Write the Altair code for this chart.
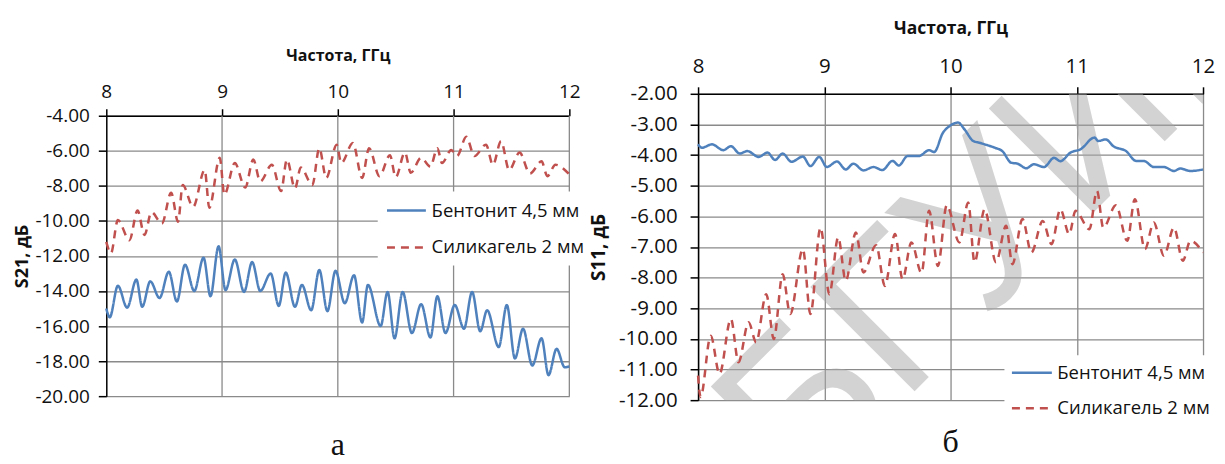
import altair as alt
import pandas as pd

FONT = "Open Sans"
BLUE = "#4F81BD"
RED = "#C0504D"
GRID = "#8a8a8a"
INK = "#111111"

series_names = ["Бентонит 4,5 мм", "Силикагель 2 мм"]
freq_ticks = [8, 9, 10, 11, 12]

# ---- panel а : S21 ----
a_bent_f = [8.00, 8.03, 8.10, 8.18, 8.26, 8.31, 8.38, 8.46, 8.54, 8.61, 8.68, 8.76, 8.84, 8.90, 8.97,
            9.03, 9.11, 9.19, 9.26, 9.33, 9.42, 9.49, 9.55, 9.63, 9.69, 9.77, 9.84, 9.91, 9.98, 10.06,
            10.14, 10.21, 10.26, 10.37, 10.43, 10.49, 10.56, 10.64, 10.72, 10.80, 10.86, 10.93, 11.01,
            11.09, 11.16, 11.23, 11.29, 11.39, 11.46, 11.53, 11.60, 11.68, 11.76, 11.82, 11.89, 11.96, 12.00]
a_bent_v = [-15.0, -15.5, -13.7, -14.95, -13.35, -14.9, -13.45, -14.4, -12.9, -14.6, -12.5, -14.0, -12.1,
            -14.3, -11.45, -13.95, -12.2, -14.05, -12.35, -14.0, -13.0, -14.85, -12.95, -14.9, -13.65,
            -15.1, -12.8, -15.15, -12.85, -14.7, -13.1, -15.8, -13.65, -16.0, -14.05, -16.7, -14.05, -16.4,
            -14.75, -16.65, -14.3, -16.4, -14.8, -16.15, -14.05, -16.3, -15.1, -17.2, -14.8, -17.85,
            -16.15, -18.25, -16.7, -18.8, -17.3, -18.35, -18.3]
a_sil_f = [8.00, 8.04, 8.10, 8.20, 8.27, 8.33, 8.39, 8.48, 8.56, 8.62, 8.66, 8.75, 8.85, 8.89, 8.98, 9.02,
           9.11, 9.20, 9.27, 9.33, 9.43, 9.51, 9.56, 9.63, 9.68, 9.78, 9.84, 9.90, 9.99, 10.03, 10.13,
           10.21, 10.27, 10.36, 10.45, 10.50, 10.58, 10.63, 10.72, 10.80, 10.86, 10.90, 10.98, 11.03,
           11.11, 11.18, 11.28, 11.34, 11.41, 11.48, 11.57, 11.66, 11.76, 11.81, 11.88, 12.00]
a_sil_v = [-11.2, -11.85, -9.95, -11.1, -9.4, -10.8, -9.5, -10.15, -8.4, -10.05, -7.95, -9.2, -7.1, -9.25,
           -6.4, -8.5, -6.7, -8.1, -6.5, -7.75, -6.8, -8.3, -6.5, -8.15, -6.95, -7.95, -5.85, -7.55, -5.65,
           -6.7, -5.55, -7.55, -5.85, -7.45, -6.25, -7.5, -6.1, -7.25, -6.4, -6.9, -5.85, -6.7, -5.95, -6.3,
           -5.2, -6.3, -5.65, -6.8, -5.45, -7.1, -6.1, -7.3, -6.6, -7.45, -6.8, -7.35]
a_y_ticks = [-20, -18, -16, -14, -12, -10, -8, -6, -4]

# ---- panel б : S11 ----
b_bent_f = [8.00, 8.03, 8.11, 8.20, 8.26, 8.33, 8.39, 8.48, 8.55, 8.61, 8.67, 8.74, 8.83, 8.89, 8.96,
            9.02, 9.10, 9.17, 9.23, 9.31, 9.39, 9.46, 9.54, 9.59, 9.66, 9.75, 9.83, 9.87, 9.94, 9.99,
            10.06, 10.11, 10.18, 10.23, 10.27, 10.35, 10.41, 10.48, 10.53, 10.60, 10.66, 10.74, 10.82,
            10.87, 10.95, 11.03, 11.14, 11.17, 11.23, 11.29, 11.39, 11.47, 11.53, 11.61, 11.69, 11.77,
            11.82, 11.90, 12.00]
b_bent_v = [-3.65, -3.76, -3.65, -3.84, -3.71, -3.95, -3.87, -4.06, -3.92, -4.16, -3.95, -4.22, -4.05,
            -4.36, -4.06, -4.39, -4.21, -4.47, -4.28, -4.5, -4.39, -4.49, -4.19, -4.34, -4.03, -4.03,
            -3.84, -3.9, -3.27, -3.06, -2.94, -3.16, -3.54, -3.6, -3.65, -3.76, -3.87, -4.25, -4.28,
            -4.43, -4.3, -4.39, -4.09, -4.2, -3.92, -3.81, -3.43, -3.54, -3.49, -3.71, -3.87, -4.19,
            -4.19, -4.39, -4.39, -4.52, -4.44, -4.52, -4.47]
b_sil_f = [8.00, 8.02, 8.10, 8.17, 8.26, 8.32, 8.40, 8.46, 8.54, 8.60, 8.67, 8.73, 8.83, 8.89, 8.97,
           9.04, 9.11, 9.17, 9.25, 9.31, 9.41, 9.48, 9.56, 9.62, 9.69, 9.77, 9.83, 9.90, 9.97, 10.07,
           10.14, 10.19, 10.27, 10.36, 10.44, 10.49, 10.57, 10.64, 10.73, 10.80, 10.87, 10.94, 10.99,
           11.10, 11.16, 11.21, 11.31, 11.40, 11.46, 11.54, 11.61, 11.69, 11.77, 11.84, 11.90, 12.00]
b_sil_v = [-11.2, -11.9, -9.9, -11.14, -9.35, -10.76, -9.46, -10.11, -8.54, -10.0, -7.89, -9.19, -7.07,
           -9.19, -6.37, -8.54, -6.69, -8.1, -6.53, -7.83, -6.94, -8.27, -6.58, -8.05, -6.85, -7.85,
           -5.82, -7.62, -5.64, -6.85, -5.55, -7.5, -5.77, -7.5, -6.31, -7.56, -6.09, -7.18, -6.15,
           -6.91, -5.77, -6.58, -5.82, -6.42, -5.17, -6.37, -5.64, -6.8, -5.44, -7.07, -6.2, -7.29,
           -6.37, -7.45, -6.8, -7.18]
b_y_ticks = [-12, -11, -10, -9, -8, -7, -6, -5, -4, -3, -2]

watermark_text = ["БГУИР"]
watermark_f = [10.4]
watermark_v = [-5.9]


def series_df(f1, v1, f2, v2):
    return pd.DataFrame({
        "f": f1 + f2,
        "v": v1 + v2,
        "s": [series_names[0]] * len(f1) + [series_names[1]] * len(f2),
    })


LABEL_EXPR = "replace(format(datum.value, '.2f'), '\u2212', '-')"


def panel(df, y_dom, y_ticks, y_title, cfg, extra_layers=()):
    x_axis = alt.Axis(orient="top", values=freq_ticks, tickCount=10, format="d",
                      grid=not cfg["own_vgrid"], gridColor=GRID, gridWidth=1.3,
                      offset=cfg["x_offset"],
                      title="Частота, ГГц", titleFont=FONT, titleFontSize=cfg["x_title_size"],
                      titleFontWeight="bold", titleColor=INK, titlePadding=cfg["x_title_pad"],
                      labelFont=FONT, labelFontSize=cfg["tick_size"], labelColor=INK,
                      labelPadding=cfg["x_lab_pad"], labelFlush=False, labelOverlap=False,
                      tickSize=7, tickColor="black", tickWidth=1.5,
                      domainColor="black", domainWidth=1.5)
    if cfg["y_range"] is not None:
        y_scale = alt.Scale(domain=y_dom, nice=False, zero=False, range=cfg["y_range"])
    else:
        y_scale = alt.Scale(domain=y_dom, nice=False, zero=False)
    y_axis = alt.Axis(values=y_ticks, tickCount=30, labelExpr=LABEL_EXPR, grid=True,
                      gridColor=GRID, gridWidth=1.3, title=y_title, titleFont=FONT,
                      titleFontSize=cfg["y_title_size"], titleFontWeight="bold", titleColor=INK,
                      titlePadding=cfg["y_title_pad"], labelFont=FONT, labelFontSize=cfg["tick_size"],
                      labelColor=INK, labelPadding=cfg["y_lab_pad"], labelOverlap=False,
                      tickSize=8, tickColor="black", tickWidth=1.5,
                      domainColor="black", domainWidth=1.5)
    legend = alt.Legend(title=None, orient="none", legendX=cfg["legend_x"], legendY=cfg["legend_y"],
                        fillColor="white", padding=cfg["legend_pad"], labelFont=FONT,
                        labelFontSize=cfg["legend_size"], labelColor=INK, labelLimit=400,
                        symbolType="M-1,0H3", symbolSize=cfg["sym_size"], symbolStrokeWidth=2.5,
                        labelOffset=24, rowPadding=cfg["legend_row"], zindex=1)
    x_enc = alt.X("f:Q", scale=alt.Scale(domain=[8, 12], nice=False, zero=False), axis=x_axis)
    y_enc = alt.Y("v:Q", scale=y_scale, axis=y_axis)
    lines = alt.Chart(df).mark_line(strokeWidth=2.5, interpolate="monotone").encode(
        x=x_enc, y=y_enc,
        color=alt.Color("s:N", scale=alt.Scale(domain=series_names, range=[BLUE, RED]), legend=legend),
        strokeDash=alt.StrokeDash("s:N", scale=alt.Scale(domain=series_names, range=[[1, 0], [8, 6]]),
                                  legend=legend),
    )
    layers = list(extra_layers)
    if cfg["own_vgrid"]:
        gdf = pd.DataFrame({"f": freq_ticks[1:], "v": [y_dom[1]] * 4, "v2": [y_dom[0]] * 4})
        vgrid = alt.Chart(gdf).mark_rule(color=GRID, strokeWidth=1.3).encode(
            x=alt.X("f:Q"), y=alt.Y("v:Q"), y2="v2:Q")
        layers = [vgrid] + layers
    layers.append(lines)
    return alt.layer(*layers).properties(
        width=cfg["width"], height=cfg["height"],
        title=alt.TitleParams(cfg["caption"], orient="bottom", frame="group", anchor="middle",
                              font="Liberation Serif", fontSize=32, fontWeight="normal",
                              color=INK, baseline="alphabetic", offset=cfg["cap_offset"]),
    )


df_a = series_df(a_bent_f, a_bent_v, a_sil_f, a_sil_v)
df_b = series_df(b_bent_f, b_bent_v, b_sil_f, b_sil_v)

wm_df = pd.DataFrame({"f": watermark_f, "v": watermark_v, "t": watermark_text})
watermark = alt.Chart(wm_df).mark_text(
    clip=True, angle=315, font="Liberation Sans", fontSize=215,
    color="#a8a8a8", opacity=0.5, align="center", baseline="middle"
).encode(x="f:Q", y="v:Q", text="t:N")

cfg_a = dict(width=464, height=307, y_range=[303, 22], x_offset=-22, own_vgrid=True,
             tick_size=19, x_title_size=16, y_title_size=18, x_lab_pad=7.3, x_title_pad=18.7,
             y_lab_pad=9, y_title_pad=3, legend_x=272, legend_y=98, legend_pad=8,
             legend_size=18.5, legend_row=16, sym_size=380, caption="а", cap_offset=49)
cfg_b = dict(width=506, height=307, y_range=None, x_offset=0, own_vgrid=False,
             tick_size=20.5, x_title_size=17.5, y_title_size=19, x_lab_pad=10, x_title_pad=19,
             y_lab_pad=13, y_title_pad=10, legend_x=307, legend_y=262, legend_pad=6,
             legend_size=18.5, legend_row=14.5, sym_size=400, caption="б", cap_offset=28)

left = panel(df_a, [-20, -4], a_y_ticks, "S21, дБ", cfg_a)
right = panel(df_b, [-12, -2], b_y_ticks, "S11, дБ", cfg_b, extra_layers=[watermark])

chart = alt.hconcat(left, right, spacing=-5).resolve_scale(
    color="independent", strokeDash="independent"
).resolve_legend(color="independent", strokeDash="independent").configure_view(
    stroke="transparent"
).properties(padding={"left": 4.5, "top": 10.5, "right": 0, "bottom": 0})

chart.save("out.html", embed_options={"renderer": "svg", "actions": False})
